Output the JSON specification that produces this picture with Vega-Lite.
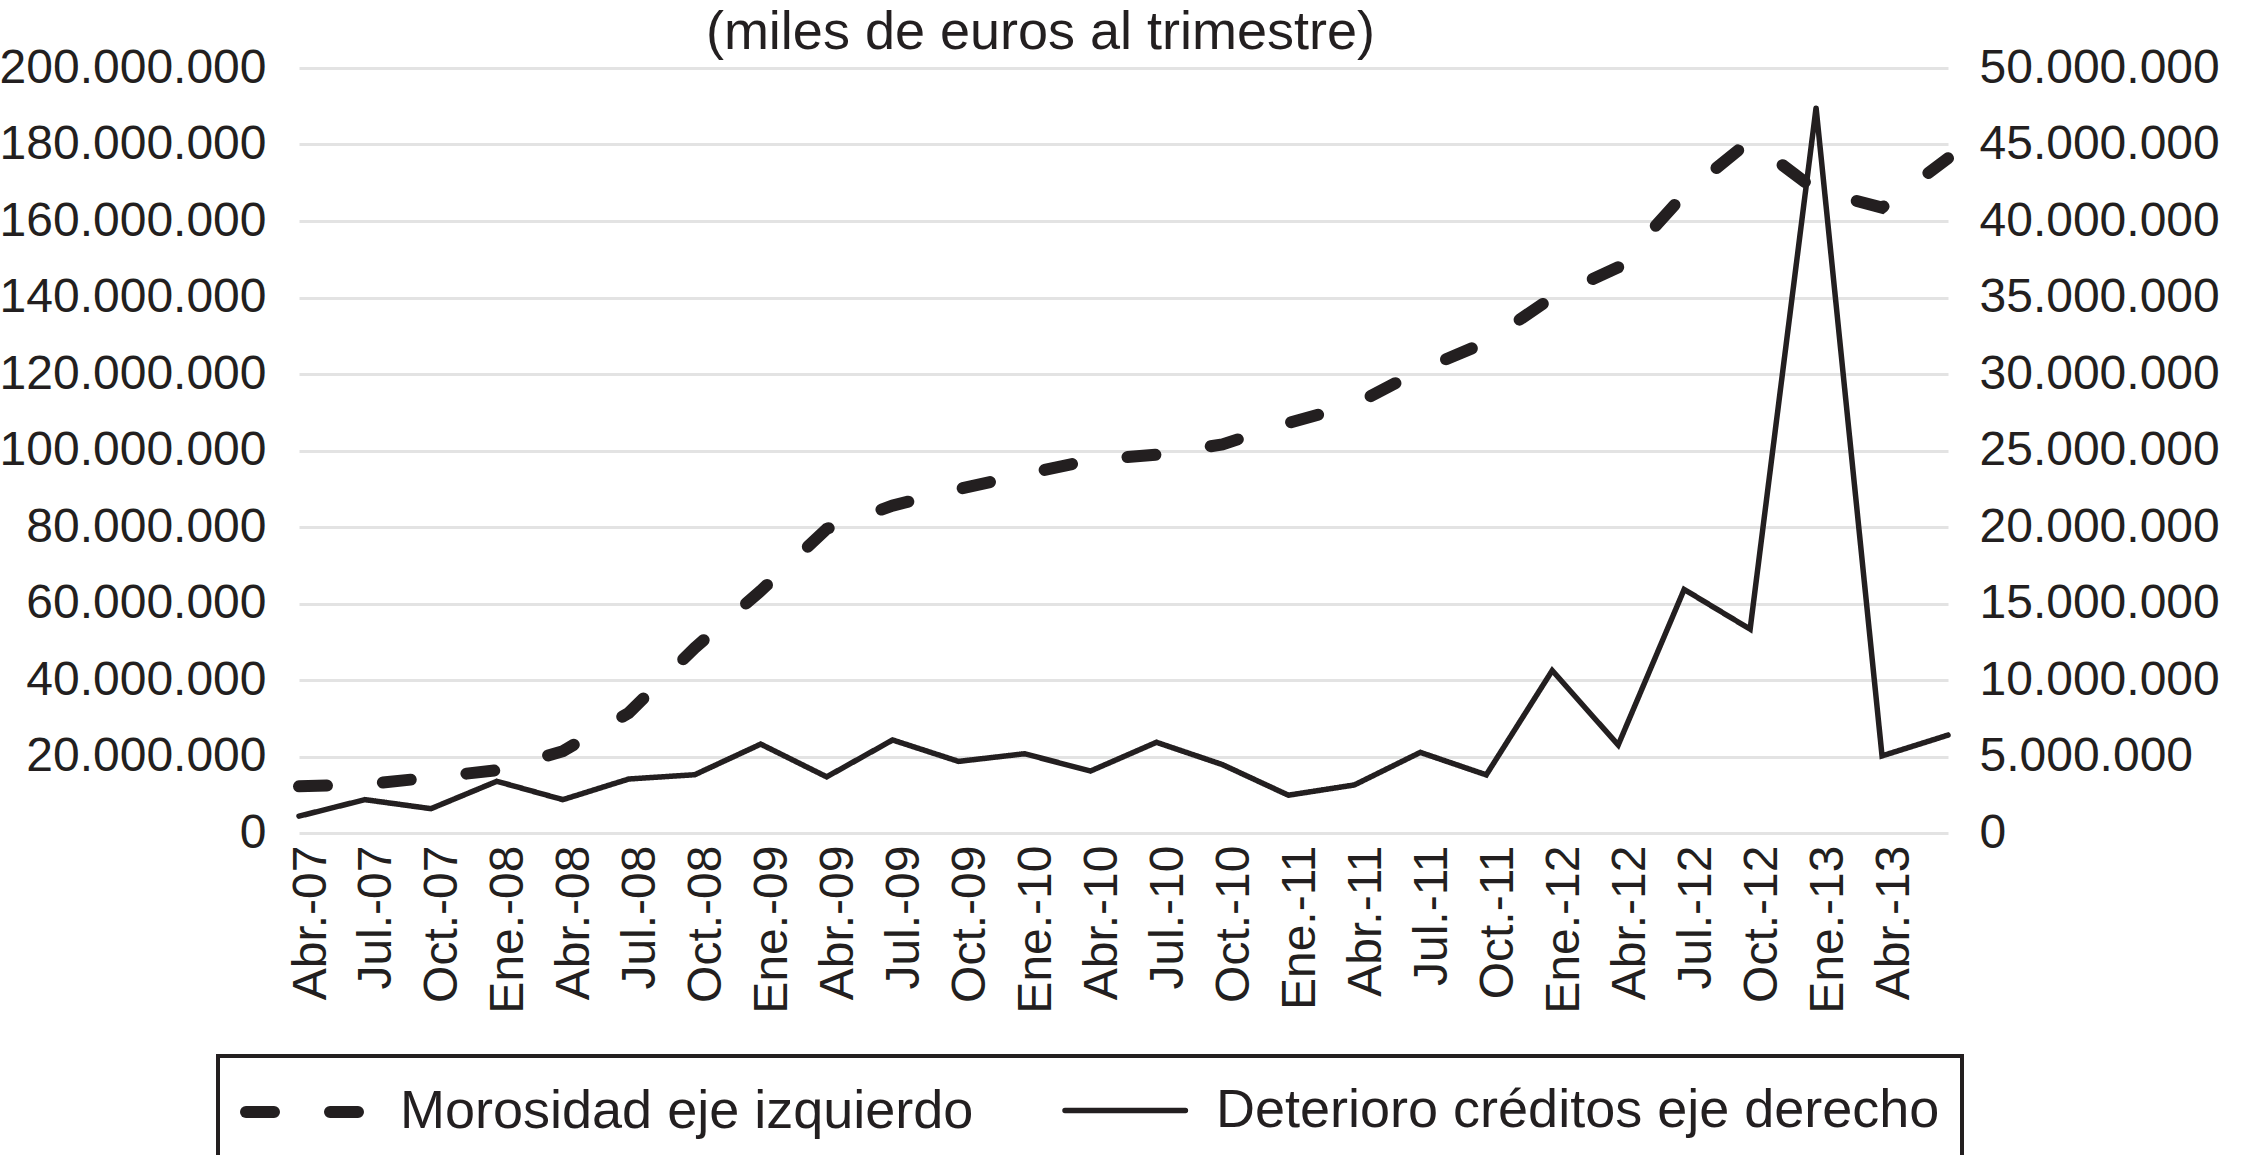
{
  "$schema": "https://vega.github.io/schema/vega-lite/v6.json",
  "width": 1649,
  "height": 765,
  "autosize": {"type": "none"},
  "padding": {"left": 299, "top": 68, "right": 298, "bottom": 322},
  "background": "white",
  "config": {
    "locale": {"number": {"decimal": ",", "thousands": ".", "grouping": [3], "currency": ["", " €"]}},
    "view": {"stroke": null},
    "font": "Liberation Sans",
    "axis": {"labelFont": "Liberation Sans", "labelColor": "#231f20", "labelLimit": 0, "domain": false, "ticks": false, "grid": false, "title": null}
  },
  "title": {
    "text": "(miles de euros al trimestre)",
    "fontSize": 54,
    "fontWeight": "normal",
    "font": "Liberation Sans",
    "color": "#231f20",
    "anchor": "middle",
    "dx": -83,
    "dy": 22,
    "offset": 6
  },
  "data": {
    "values": [
      {"trimestre": "Abr.-07", "serie": "Morosidad eje izquierdo", "valor": 12200000},
      {"trimestre": "Jul.-07", "serie": "Morosidad eje izquierdo", "valor": 12700000},
      {"trimestre": "Oct.-07", "serie": "Morosidad eje izquierdo", "valor": 14500000},
      {"trimestre": "Ene.-08", "serie": "Morosidad eje izquierdo", "valor": 16400000},
      {"trimestre": "Abr.-08", "serie": "Morosidad eje izquierdo", "valor": 21400000},
      {"trimestre": "Jul.-08", "serie": "Morosidad eje izquierdo", "valor": 31400000},
      {"trimestre": "Oct.-08", "serie": "Morosidad eje izquierdo", "valor": 48400000},
      {"trimestre": "Ene.-09", "serie": "Morosidad eje izquierdo", "valor": 63300000},
      {"trimestre": "Abr.-09", "serie": "Morosidad eje izquierdo", "valor": 79500000},
      {"trimestre": "Jul.-09", "serie": "Morosidad eje izquierdo", "valor": 85600000},
      {"trimestre": "Oct.-09", "serie": "Morosidad eje izquierdo", "valor": 89900000},
      {"trimestre": "Ene.-10", "serie": "Morosidad eje izquierdo", "valor": 93800000},
      {"trimestre": "Abr.-10", "serie": "Morosidad eje izquierdo", "valor": 97500000},
      {"trimestre": "Jul.-10", "serie": "Morosidad eje izquierdo", "valor": 98900000},
      {"trimestre": "Oct.-10", "serie": "Morosidad eje izquierdo", "valor": 101600000},
      {"trimestre": "Ene.-11", "serie": "Morosidad eje izquierdo", "valor": 107200000},
      {"trimestre": "Abr.-11", "serie": "Morosidad eje izquierdo", "valor": 112000000},
      {"trimestre": "Jul.-11", "serie": "Morosidad eje izquierdo", "valor": 121000000},
      {"trimestre": "Oct.-11", "serie": "Morosidad eje izquierdo", "valor": 128300000},
      {"trimestre": "Ene.-12", "serie": "Morosidad eje izquierdo", "valor": 140000000},
      {"trimestre": "Abr.-12", "serie": "Morosidad eje izquierdo", "valor": 147900000},
      {"trimestre": "Jul.-12", "serie": "Morosidad eje izquierdo", "valor": 167000000},
      {"trimestre": "Oct.-12", "serie": "Morosidad eje izquierdo", "valor": 181000000},
      {"trimestre": "Ene.-13", "serie": "Morosidad eje izquierdo", "valor": 168000000},
      {"trimestre": "Abr.-13", "serie": "Morosidad eje izquierdo", "valor": 163500000},
      {"trimestre": "Jul.-13", "serie": "Morosidad eje izquierdo", "valor": 176400000},
      {"trimestre": "Abr.-07", "serie": "Deterioro créditos eje derecho", "valor": 1100000},
      {"trimestre": "Jul.-07", "serie": "Deterioro créditos eje derecho", "valor": 2180000},
      {"trimestre": "Oct.-07", "serie": "Deterioro créditos eje derecho", "valor": 1590000},
      {"trimestre": "Ene.-08", "serie": "Deterioro créditos eje derecho", "valor": 3380000},
      {"trimestre": "Abr.-08", "serie": "Deterioro créditos eje derecho", "valor": 2180000},
      {"trimestre": "Jul.-08", "serie": "Deterioro créditos eje derecho", "valor": 3530000},
      {"trimestre": "Oct.-08", "serie": "Deterioro créditos eje derecho", "valor": 3810000},
      {"trimestre": "Ene.-09", "serie": "Deterioro créditos eje derecho", "valor": 5810000},
      {"trimestre": "Abr.-09", "serie": "Deterioro créditos eje derecho", "valor": 3670000},
      {"trimestre": "Jul.-09", "serie": "Deterioro créditos eje derecho", "valor": 6080000},
      {"trimestre": "Oct.-09", "serie": "Deterioro créditos eje derecho", "valor": 4680000},
      {"trimestre": "Ene.-10", "serie": "Deterioro créditos eje derecho", "valor": 5180000},
      {"trimestre": "Abr.-10", "serie": "Deterioro créditos eje derecho", "valor": 4050000},
      {"trimestre": "Jul.-10", "serie": "Deterioro créditos eje derecho", "valor": 5930000},
      {"trimestre": "Oct.-10", "serie": "Deterioro créditos eje derecho", "valor": 4470000},
      {"trimestre": "Ene.-11", "serie": "Deterioro créditos eje derecho", "valor": 2470000},
      {"trimestre": "Abr.-11", "serie": "Deterioro créditos eje derecho", "valor": 3140000},
      {"trimestre": "Jul.-11", "serie": "Deterioro créditos eje derecho", "valor": 5270000},
      {"trimestre": "Oct.-11", "serie": "Deterioro créditos eje derecho", "valor": 3800000},
      {"trimestre": "Ene.-12", "serie": "Deterioro créditos eje derecho", "valor": 10620000},
      {"trimestre": "Abr.-12", "serie": "Deterioro créditos eje derecho", "valor": 5750000},
      {"trimestre": "Jul.-12", "serie": "Deterioro créditos eje derecho", "valor": 15920000},
      {"trimestre": "Oct.-12", "serie": "Deterioro créditos eje derecho", "valor": 13320000},
      {"trimestre": "Ene.-13", "serie": "Deterioro créditos eje derecho", "valor": 47400000},
      {"trimestre": "Abr.-13", "serie": "Deterioro créditos eje derecho", "valor": 5040000},
      {"trimestre": "Jul.-13", "serie": "Deterioro créditos eje derecho", "valor": 6400000}
    ]
  },
  "layer": [
    {
      "transform": [{"filter": "datum.serie === 'Morosidad eje izquierdo'"}],
      "mark": {"type": "line", "strokeCap": "round", "color": "#231f20"},
      "encoding": {
        "x": {
          "field": "trimestre", "type": "ordinal",
          "scale": {"type": "point", "padding": 0, "domain": ["Abr.-07","Jul.-07","Oct.-07","Ene.-08","Abr.-08","Jul.-08","Oct.-08","Ene.-09","Abr.-09","Jul.-09","Oct.-09","Ene.-10","Abr.-10","Jul.-10","Oct.-10","Ene.-11","Abr.-11","Jul.-11","Oct.-11","Ene.-12","Abr.-12","Jul.-12","Oct.-12","Ene.-13","Abr.-13","Jul.-13"]},
          "axis": {"values": ["Abr.-07","Jul.-07","Oct.-07","Ene.-08","Abr.-08","Jul.-08","Oct.-08","Ene.-09","Abr.-09","Jul.-09","Oct.-09","Ene.-10","Abr.-10","Jul.-10","Oct.-10","Ene.-11","Abr.-11","Jul.-11","Oct.-11","Ene.-12","Abr.-12","Jul.-12","Oct.-12","Ene.-13","Abr.-13"], "labelAngle": 270, "labelFontSize": 48, "labelPadding": 12, "labelOffset": 12, "labelOverlap": false, "title": null}
        },
        "y": {
          "field": "valor", "type": "quantitative",
          "scale": {"domain": [0, 200000000]},
          "axis": {"orient": "left", "values": [0,20000000,40000000,60000000,80000000,100000000,120000000,140000000,160000000,180000000,200000000], "format": ",d", "grid": true, "gridColor": "#e3e3e3", "gridWidth": 3, "labelFontSize": 48, "labelPadding": 33, "title": null}
        },
        "strokeDash": {
          "field": "serie", "type": "nominal",
          "scale": {"domain": ["Morosidad eje izquierdo", "Deterioro créditos eje derecho"], "range": [[28, 56], [1, 0]]},
          "legend": {
            "title": null, "orient": "none", "legendX": -81, "legendY": 988, "direction": "horizontal",
            "labelFontSize": 54, "labelFont": "Liberation Sans", "labelColor": "#231f20", "labelLimit": 0,
            "symbolType": "M-1,0H3.3", "symbolSize": 3136, "symbolStrokeColor": "#231f20",
            "labelOffset": 92, "columnPadding": 80, "padding": 22,
            "strokeColor": "#231f20", "fillColor": "white",
            "encode": {"legend": {"update": {"strokeWidth": {"value": 4}}}, "symbols": {"update": {"strokeCap": {"value": "round"}, "strokeDash": {"value": [42, 30]}}}}
          }
        },
        "strokeWidth": {
          "field": "serie", "type": "nominal",
          "scale": {"type": "point", "padding": 0, "domain": ["Morosidad eje izquierdo", "Deterioro créditos eje derecho"], "range": [12, 5.5]}
        }
      }
    },
    {
      "transform": [{"filter": "datum.serie === 'Deterioro créditos eje derecho'"}],
      "mark": {"type": "line", "strokeCap": "round", "color": "#231f20"},
      "encoding": {
        "x": {
          "field": "trimestre", "type": "ordinal",
          "axis": {"values": ["Abr.-07","Jul.-07","Oct.-07","Ene.-08","Abr.-08","Jul.-08","Oct.-08","Ene.-09","Abr.-09","Jul.-09","Oct.-09","Ene.-10","Abr.-10","Jul.-10","Oct.-10","Ene.-11","Abr.-11","Jul.-11","Oct.-11","Ene.-12","Abr.-12","Jul.-12","Oct.-12","Ene.-13","Abr.-13"], "labelAngle": 270, "labelFontSize": 48, "labelPadding": 12, "labelOffset": 12, "labelOverlap": false, "title": null}
        },
        "y": {
          "field": "valor", "type": "quantitative",
          "scale": {"domain": [0, 50000000]},
          "axis": {"orient": "right", "values": [0,5000000,10000000,15000000,20000000,25000000,30000000,35000000,40000000,45000000,50000000], "format": ",d", "grid": false, "labelFontSize": 48, "labelPadding": 31, "title": null}
        },
        "strokeDash": {"field": "serie", "type": "nominal"},
        "strokeWidth": {"field": "serie", "type": "nominal"}
      }
    }
  ],
  "resolve": {"scale": {"y": "independent"}}
}
